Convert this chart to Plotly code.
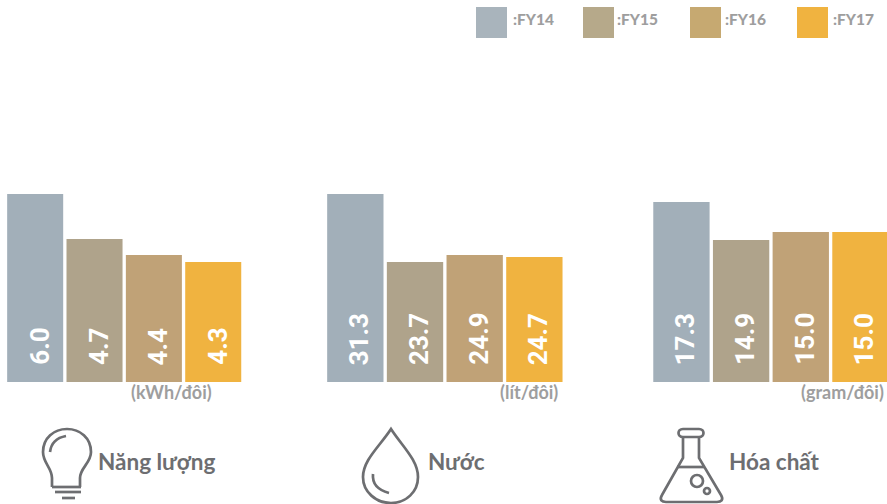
import plotly.graph_objects as go

W, H = 887, 504
years = ["FY14", "FY15", "FY16", "FY17"]
legend_labels = [":FY14", ":FY15", ":FY16", ":FY17"]
energy_labels = ["6.0", "4.7", "4.4", "4.3"]
water_labels = ["31.3", "23.7", "24.9", "24.7"]
chem_labels = ["17.3", "14.9", "15.0", "15.0"]
# The reference's bars are not proportional to their printed labels,
# so drawn heights are read separately from the picture.
energy_heights = [188, 143, 127, 120]
water_heights = [188, 120, 127, 125]
chem_heights = [180, 142, 150, 150]
units = ["(kWh/đôi)", "(lít/đôi)", "(gram/đôi)"]
names = ["Năng lượng", "Nước", "Hóa chất"]

bar_colors = ["#A2AFB9", "#AFA38B", "#C0A277", "#F0B340"]
legend_colors = ["#A9B4BC", "#B6A98A", "#C6A971", "#F0B340"]
GRAY = "#6D6E71"
LABEL = "#9E9E9E"
FONT = "Lato"

px = lambda x: x / W
py = lambda y: 1 - y / H


def path(cmds):
    out = []
    for c in cmds:
        if isinstance(c, str):
            out.append(c)
        else:
            out.append(f"{px(c[0]):.5f} {py(c[1]):.5f}")
    return " ".join(out)


fig = go.Figure()
panels = [
    ("x", "y", (5.5, 242.9), energy_heights, energy_labels),
    ("x2", "y2", (325.5, 564.2), water_heights, water_labels),
    ("x3", "y3", (651.6, 887), chem_heights, chem_labels),
]
bottom, top = 382, 182
annotations = []
for i, (xa, ya, dom, heights, labels) in enumerate(panels):
    fig.add_trace(go.Bar(x=years, y=heights, xaxis=xa, yaxis=ya,
                         marker=dict(color=bar_colors, line_width=0),
                         showlegend=False, hoverinfo="skip"))
    s = "" if i == 0 else str(i + 1)
    end = 3.5 if i < 2 else -0.5 + (dom[1] - dom[0]) / 59.67
    fig.update_layout(**{
        f"xaxis{s}": dict(domain=[px(dom[0]), px(dom[1])], visible=False,
                          type="category", range=[-0.5, end], anchor=ya),
        f"yaxis{s}": dict(domain=[py(bottom), py(top)], visible=False,
                          range=[0, bottom - top], anchor=xa),
    })
    for yr, lab in zip(years, labels):
        annotations.append(dict(x=yr, y=0, xref=xa, yref=ya, text=lab, textangle=-90,
                                showarrow=False, xanchor="center", yanchor="bottom",
                                xshift=4, yshift=15,
                                font=dict(family="Roboto", size=26, color="white", weight=700)))

# legend
shapes = []
for c, x0 in zip(legend_colors, [476, 583, 690, 797]):
    shapes.append(dict(type="rect", xref="paper", yref="paper", x0=px(x0), x1=px(x0 + 31),
                       y0=py(38), y1=py(7), fillcolor=c, line_width=0))
for t, x0 in zip(legend_labels, [511, 615, 723, 831]):
    annotations.append(dict(x=px(x0), y=py(19), xref="paper", yref="paper", text=t, showarrow=False,
                            xanchor="left", yanchor="middle",
                            font=dict(family=FONT, size=15.5, color=LABEL, weight=900)))
# units
for t, xr in zip(units, [214, 560, 886]):
    annotations.append(dict(x=px(xr), y=py(392), xref="paper", yref="paper", text=t, showarrow=False,
                            xanchor="right", yanchor="middle",
                            font=dict(family=FONT, size=18, color=LABEL, weight=700)))
# category names
for t, x0 in zip(names, [96, 426, 727]):
    annotations.append(dict(x=px(x0), y=py(461), xref="paper", yref="paper", text=t, showarrow=False,
                            xanchor="left", yanchor="middle",
                            font=dict(family=FONT, size=22.5, color=GRAY, weight=700)))

# icons
icon_paths = [
    # bulb
    ["M", (52, 487), "L", (52, 478), "C", (52, 468), (43, 463), (43, 452),
     "C", (43, 438), (54, 429), (67, 429), "C", (80, 429), (91, 438), (91, 452),
     "C", (91, 463), (80, 468), (80, 478), "L", (80, 487)],
    ["M", (50, 452), "C", (51, 444), (55, 438), (66, 436)],
    ["M", (52, 487), "L", (81, 487)],
    ["M", (55, 492), "L", (81, 492)],
    ["M", (62, 498), "L", (75, 498)],
    # drop
    ["M", (391, 429), "C", (380, 446), (363, 460), (363, 477), "C", (363, 492), (376, 503), (391, 503),
     "C", (406, 503), (418, 492), (418, 477), "C", (418, 460), (402, 446), (391, 429), "Z"],
    ["M", (373, 474), "C", (372, 484), (378, 490), (389, 493)],
    # flask
    ["M", (683, 429), "L", (699, 429), "C", (705, 429), (705, 437), (699, 437), "L", (683, 437),
     "C", (677, 437), (677, 429), (683, 429), "Z"],
    ["M", (683, 437), "L", (683, 458), "L", (662, 495), "C", (659, 500), (662, 502), (666, 502),
     "L", (717, 502), "C", (721, 502), (724, 500), (721, 495), "L", (699, 458), "L", (699, 437)],
    ["M", (677, 467), "L", (704, 467)],
]
for p in icon_paths:
    shapes.append(dict(type="path", xref="paper", yref="paper", path=path(p),
                       line=dict(color=GRAY, width=2.7)))
for cx, cy, r in [(697, 481, 6), (707, 491, 3)]:
    shapes.append(dict(type="circle", xref="paper", yref="paper", x0=px(cx - r), x1=px(cx + r),
                       y0=py(cy + r), y1=py(cy - r), line=dict(color=GRAY, width=2.7)))

fig.update_layout(width=W, height=H, margin=dict(l=0, r=0, t=0, b=0), autosize=False,
                  paper_bgcolor="white", plot_bgcolor="white", bargap=0.056,
                  shapes=shapes, annotations=annotations)
fig.write_html("out.html", config={"displayModeBar": False},
               post_script="document.body.style.margin='0';document.documentElement.style.overflow='hidden';")
